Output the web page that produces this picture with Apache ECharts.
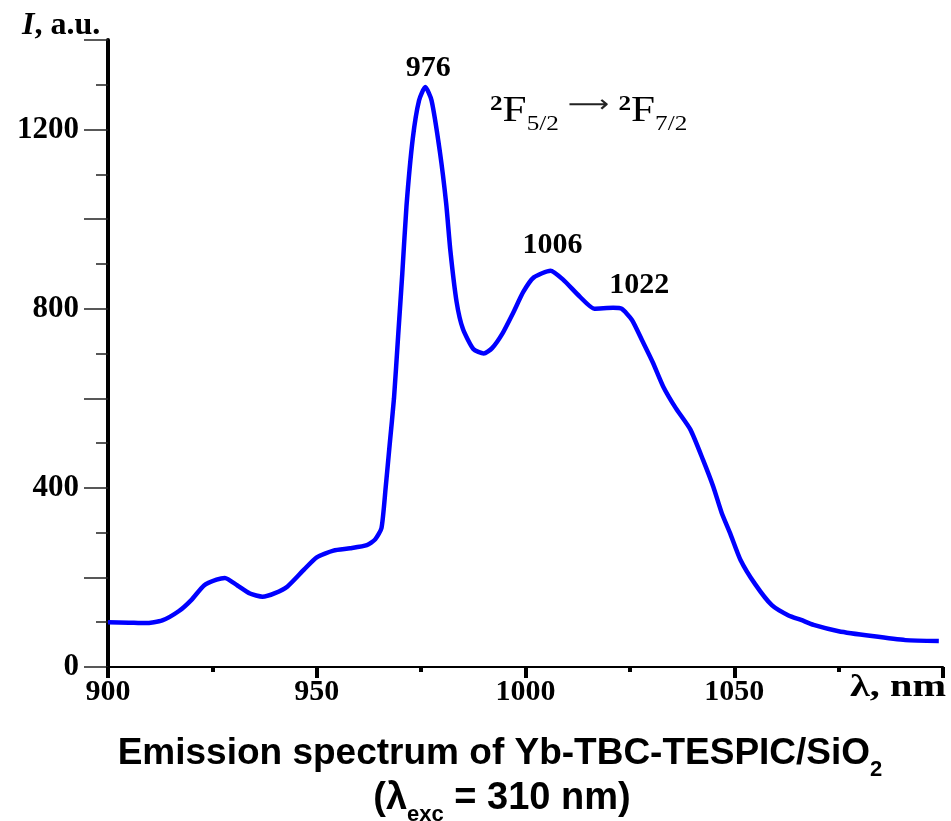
<!DOCTYPE html>
<html>
<head>
<meta charset="utf-8">
<script src="https://cdn.jsdelivr.net/npm/echarts@6/dist/echarts.min.js"></script>
<style>
  html, body { margin: 0; padding: 0; background: #fff; }
  #chart { width: 951px; height: 821px; }
</style>
</head>
<body>
<div id="chart"></div>
<script>
// emission spectrum
const wavelength = [900, 905, 909, 913, 917, 920, 923, 926, 928, 931, 934, 937, 940, 943, 947, 950, 954, 958, 962, 964,
  965.5, 966.5, 967.5, 968.5, 969.5, 970.5, 971.5, 973, 974.5, 976, 977.5, 979.5, 981, 982, 983.5, 985, 987.5, 990,
  992, 994.5, 997, 999.5, 1002, 1006, 1009, 1013, 1016.5, 1021, 1023, 1025.5, 1028, 1030.5, 1033, 1036, 1039.5,
  1042.5, 1045, 1047, 1049, 1051.5, 1055, 1059, 1063, 1066, 1069, 1075, 1083, 1091, 1099]
const intensity = [100, 99, 98, 104, 125, 150, 182, 195, 199, 182, 164, 157, 165, 180, 218, 245, 260, 265, 272, 285,
  310, 400, 500, 600, 740, 880, 1030, 1180, 1265, 1295, 1265, 1150, 1035, 930, 815, 755, 710, 700,
  712, 745, 790, 838, 870, 885, 865, 827, 800, 802, 800, 775, 728, 680, 626, 578, 530,
  463, 402, 344, 299, 239, 185, 138, 115, 105, 94, 80, 69, 60, 58]

const peakNames = ['976', '1006', '1022']
const peakX = [976, 1006, 1022]
const peakY = [1295, 885, 802]

const serif = '"Liberation Serif", "Times New Roman", serif'
const sans = '"Liberation Sans", Arial, sans-serif'

const chart = echarts.init(document.getElementById('chart'))

const peakOffsets = [[3, 1], [2, -5], [22, -3]]

chart.setOption({
  animation: false,
  backgroundColor: '#fff',
  grid: { left: 108, right: 8, top: 40, bottom: 154 },
  xAxis: {
    type: 'value',
    min: 900,
    max: 1100,
    interval: 50,
    axisLine: { lineStyle: { color: '#000', width: 2 } },
    axisTick: { length: 11, lineStyle: { color: '#000', width: 4 } },
    minorTick: { show: true, splitNumber: 2, length: 5, lineStyle: { color: '#000', width: 4 } },
    splitLine: { show: false },
    axisLabel: {
      margin: 10,
      color: '#000',
      fontFamily: serif,
      fontWeight: 'bold',
      fontSize: 30,
      formatter: v => (v === 1100 ? '' : v),
    },
  },
  yAxis: {
    type: 'value',
    min: 0,
    max: 1400,
    interval: 200,
    axisLine: { show: true, lineStyle: { color: '#000', width: 4 } },
    axisTick: { length: 24, lineStyle: { color: '#222', width: 1.5 } },
    minorTick: { show: true, splitNumber: 2, length: 12, lineStyle: { color: '#222', width: 1.5 } },
    splitLine: { show: false },
    axisLabel: {
      margin: 29,
      color: '#000',
      fontFamily: serif,
      fontWeight: 'bold',
      fontSize: 31,
      formatter: v => (v % 400 === 0 ? v : ''),
    },
  },
  series: [{
    type: 'line',
    data: wavelength.map((x, i) => [x, intensity[i]]),
    smooth: 0.2,
    showSymbol: false,
    lineStyle: { color: '#0000ff', width: 4.5 },
    markPoint: {
      symbol: 'circle',
      symbolSize: 0,
      label: {
        show: true,
        position: 'top',
        color: '#000',
        fontFamily: serif,
        fontWeight: 'bold',
        fontSize: 30,
        formatter: p => p.name,
      },
      data: peakNames.map((n, i) => ({
        name: n,
        coord: [peakX[i], peakY[i]],
        label: { offset: peakOffsets[i] },
      })),
    },
  }],
  graphic: [
    {
      type: 'text', x: 22, y: 26,
      style: {
        text: '{i|I}{t|, a.u.}',
        verticalAlign: 'middle',
        rich: {
          i: { fontFamily: serif, fontStyle: 'italic', fontWeight: 'bold', fontSize: 32, fill: '#000' },
          t: { fontFamily: serif, fontWeight: 'bold', fontSize: 32, fill: '#000' },
        },
      },
    },
    {
      type: 'text', x: 946, y: 688, scaleX: 1.3,
      style: {
        text: 'λ, nm', align: 'right', verticalAlign: 'middle',
        fontFamily: serif, fontWeight: 'bold', fontSize: 31, fill: '#000',
      },
    },
    {
      type: 'text', x: 490, y: 112, scaleX: 1.2,
      style: {
        text: '{sup|2}{f|F}{sub|5/2}{ar| ⟶ }{sup|2}{f|F}{sub|7/2}',
        verticalAlign: 'middle',
        rich: {
          f: { fontFamily: serif, fontSize: 36, fill: '#000', verticalAlign: 'top', lineHeight: 36 },
          sup: { fontFamily: serif, fontWeight: 'bold', fontSize: 21, fill: '#000', verticalAlign: 'top', lineHeight: 22 },
          sub: { fontFamily: serif, fontSize: 21, fill: '#000', verticalAlign: 'top', lineHeight: 22, padding: [20, 0, 0, 0] },
          ar: { fontFamily: 'DejaVu Sans', fontSize: 24, fill: '#222', verticalAlign: 'top', lineHeight: 36 },
        },
      },
    },
    {
      type: 'text', x: 500, y: 755,
      style: {
        text: '{t|Emission spectrum of Yb-TBC-TESPIC/SiO}{s|2}',
        align: 'center', verticalAlign: 'middle',
        rich: {
          t: { fontFamily: sans, fontWeight: 'bold', fontSize: 37, fill: '#000', verticalAlign: 'top', lineHeight: 40 },
          s: { fontFamily: sans, fontWeight: 'bold', fontSize: 22, fill: '#000', verticalAlign: 'top', lineHeight: 22, padding: [24, 0, 0, 0] },
        },
      },
    },
    {
      type: 'text', x: 502, y: 800,
      style: {
        text: '{t|(λ}{s|exc}{t| = 310 nm)}',
        align: 'center', verticalAlign: 'middle',
        rich: {
          t: { fontFamily: sans, fontWeight: 'bold', fontSize: 38, fill: '#000', verticalAlign: 'top', lineHeight: 40 },
          s: { fontFamily: sans, fontWeight: 'bold', fontSize: 22, fill: '#000', verticalAlign: 'top', lineHeight: 22, padding: [24, 0, 0, 0] },
        },
      },
    },
  ],
})
</script>
</body>
</html>
